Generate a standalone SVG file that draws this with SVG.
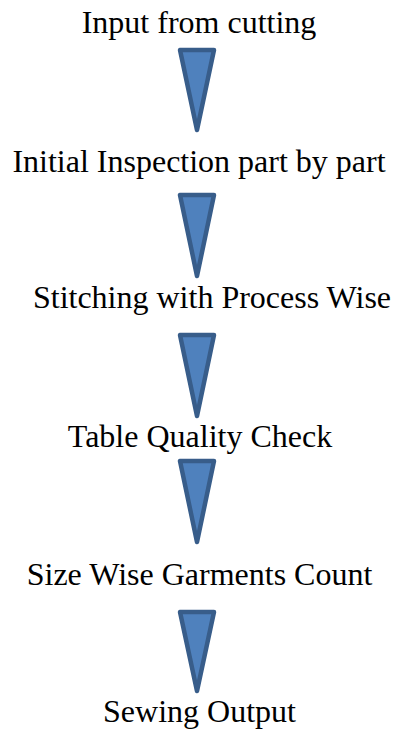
<svg xmlns="http://www.w3.org/2000/svg" width="394" height="730" viewBox="0 0 394 730">
<style>
text{font-family:"Liberation Serif","Times New Roman",serif;font-size:32px;fill:#000;text-anchor:middle}
.arr{fill:#4F81BD;stroke:#385D8A;stroke-width:4.5;stroke-linejoin:round}
</style>
<rect width="394" height="730" fill="#fff"/>
<g id="n1"><text x="199" y="33">Input from cutting</text></g>
<g id="n2"><text x="199" y="172">Initial Inspection part by part</text></g>
<g id="n3"><text x="212" y="308">Stitching with Process Wise</text></g>
<g id="n4"><text x="200" y="447">Table Quality Check</text></g>
<g id="n5"><text x="199.5" y="585">Size Wise Garments Count</text></g>
<g id="n6"><text x="199.5" y="722">Sewing Output</text></g>
<g id="connectors">
<polygon class="arr" points="180,50 214,50 197,130"/>
<polygon class="arr" points="180,195 214,195 197,276"/>
<polygon class="arr" points="180,335 214,335 197,416"/>
<polygon class="arr" points="180,461 214,461 197,542"/>
<polygon class="arr" points="180,612 214,612 197,691"/>
</g>
</svg>
